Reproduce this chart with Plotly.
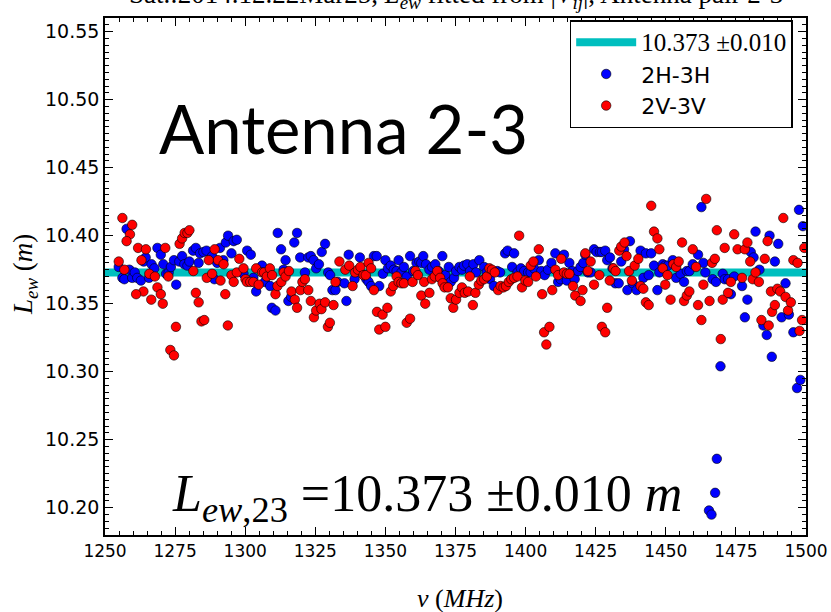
import plotly.graph_objects as go

# ---------------- data ----------------
fit_value = 10.373
fit_error = 0.010

h_freq = [1254.9, 1257.7, 1256.2, 1256.9, 1258.7, 1259.7, 1260.6, 1261.5, 1262.8, 1263.8, 1264.5, 1265.7,
          1266.6, 1267.6, 1268.7, 1269.9, 1270.8, 1271.8, 1272.7, 1273.5, 1274.6, 1275.4, 1276.5, 1277.5,
          1278.3, 1279.4, 1280.1, 1281.4, 1282.4, 1283.4, 1283.9, 1285.1, 1286.2, 1288.2, 1289.0, 1290.0,
          1291.0, 1292.2, 1293.1, 1293.9, 1295.1, 1295.9, 1297.0, 1299.4, 1300.7, 1302.0, 1302.9, 1303.9,
          1306.0, 1307.0, 1308.9, 1309.5, 1310.8, 1311.6, 1312.8, 1314.4, 1313.7, 1315.4, 1316.4, 1317.5,
          1318.5, 1319.6, 1321.3, 1322.5, 1323.4, 1324.4, 1325.3, 1326.3, 1327.3, 1328.5, 1329.6, 1330.3,
          1331.1, 1332.2, 1333.0,
          1335.4, 1336.1, 1336.9, 1339.0, 1340.9, 1342.3, 1343.2, 1344.0, 1344.9, 1345.9, 1346.9, 1347.8,
          1349.1, 1350.0, 1350.9, 1351.9, 1353.0, 1354.0, 1354.7, 1355.7, 1356.6, 1357.6, 1358.8, 1359.9,
          1361.1, 1362.1, 1362.8, 1363.5, 1364.5, 1365.7, 1366.6, 1367.8, 1369.0, 1370.3, 1371.4, 1372.6,
          1373.3, 1374.5, 1375.2, 1376.4, 1377.3, 1378.0, 1379.2, 1380.2, 1381.4, 1382.3, 1383.5, 1385.2,
          1386.1, 1387.3, 1388.7, 1389.9, 1390.9, 1392.7, 1393.6, 1395.2, 1395.9, 1397.1, 1398.3, 1399.5,
          1400.9, 1401.8, 1403.0, 1404.7, 1405.6, 1406.8, 1408.0, 1409.2, 1410.6, 1411.6, 1412.5, 1413.7,
          1414.7, 1415.6, 1416.6, 1417.5,
          1418.7, 1419.6, 1420.6, 1421.3, 1422.2, 1423.2, 1424.4, 1425.3, 1426.5, 1427.2, 1428.4, 1429.1,
          1430.1, 1431.0, 1432.0, 1433.2, 1434.1, 1435.1, 1436.3, 1437.2, 1438.2, 1439.6, 1441.0, 1442.0,
          1442.9, 1443.9, 1444.8, 1445.8, 1447.0, 1447.7, 1448.9, 1449.8, 1450.8, 1452.5, 1453.7, 1455.3,
          1456.5, 1457.5, 1458.4, 1459.6, 1461.5, 1462.7, 1463.4, 1464.1, 1466.7, 1467.9, 1470.3, 1471.0,
          1472.2, 1473.2, 1474.4, 1477.2, 1478.2, 1479.1, 1480.3, 1481.3, 1482.0, 1483.4, 1484.8, 1486.0,
          1487.0, 1488.9, 1490.1, 1491.3, 1492.7, 1493.9, 1495.5, 1497.5, 1498.9,
          1469.5, 1487.8, 1496.8, 1498.0, 1468.2, 1467.6, 1465.4, 1466.3]
h_len = [10.377, 10.405, 10.369, 10.368, 10.375, 10.369, 10.373, 10.369, 10.367, 10.381, 10.384, 10.369,
         10.379, 10.376, 10.391, 10.386, 10.379, 10.372, 10.373, 10.377, 10.382, 10.364, 10.381, 10.385,
         10.379, 10.378, 10.381, 10.389, 10.391, 10.380, 10.387, 10.388, 10.389, 10.385, 10.368, 10.380,
         10.391, 10.382, 10.395, 10.400, 10.387, 10.396, 10.397, 10.372, 10.389, 10.386, 10.369, 10.359,
         10.378, 10.366, 10.363, 10.347, 10.345, 10.402, 10.390, 10.382, 10.375, 10.352, 10.355, 10.395,
         10.402, 10.384, 10.373, 10.384, 10.385, 10.382, 10.376, 10.379, 10.388, 10.394, 10.373, 10.371,
         10.360, 10.360, 10.366,
         10.365, 10.352, 10.386, 10.368, 10.384, 10.371, 10.368, 10.366, 10.363, 10.385, 10.385, 10.363,
         10.372, 10.382, 10.376, 10.378, 10.375, 10.374, 10.382, 10.373, 10.377, 10.370, 10.385, 10.374,
         10.380, 10.381, 10.380, 10.385, 10.379, 10.375, 10.377, 10.379, 10.374, 10.385, 10.371, 10.377,
         10.366, 10.369, 10.374, 10.377, 10.375, 10.378, 10.379, 10.374, 10.379, 10.373, 10.382, 10.377,
         10.373, 10.368, 10.363, 10.374, 10.373, 10.387, 10.389, 10.377, 10.387, 10.373, 10.376, 10.374,
         10.373, 10.373, 10.376, 10.382, 10.374, 10.371, 10.375, 10.380, 10.387, 10.366, 10.368, 10.386,
         10.367, 10.380, 10.374, 10.368,
         10.374, 10.377, 10.380, 10.386, 10.373, 10.373, 10.390, 10.388, 10.388, 10.388, 10.389, 10.382,
         10.384, 10.376, 10.365, 10.365, 10.381, 10.390, 10.360, 10.396, 10.365, 10.360, 10.389, 10.369,
         10.387, 10.371, 10.387, 10.378, 10.360, 10.373, 10.379, 10.378, 10.378, 10.382, 10.369, 10.372,
         10.366, 10.374, 10.374, 10.379, 10.386, 10.421, 10.380, 10.373, 10.368, 10.366, 10.372, 10.368,
         10.368, 10.357, 10.370, 10.363, 10.340, 10.353, 10.388, 10.384, 10.403, 10.375, 10.334, 10.327,
         10.400, 10.381, 10.394, 10.340, 10.365, 10.342, 10.329, 10.419, 10.407,
         10.304, 10.311, 10.288, 10.294, 10.236, 10.211, 10.198, 10.195]

v_freq = [1256.2, 1259.7, 1258.9, 1257.7, 1261.8, 1263.0, 1264.6, 1263.7, 1261.1, 1266.5, 1268.7, 1269.9,
          1270.6, 1265.8, 1267.8, 1272.6, 1271.5, 1254.9, 1256.9, 1276.6, 1277.5, 1278.4, 1279.4, 1280.1,
          1281.5, 1282.4, 1283.4, 1284.4, 1285.4, 1275.3, 1273.3, 1274.6, 1286.3, 1287.0, 1288.2, 1289.1,
          1290.3, 1291.2, 1292.3, 1292.9, 1293.8, 1295.1, 1295.9, 1297.0, 1297.9, 1299.4, 1300.1, 1300.6,
          1301.8, 1302.9, 1303.9, 1304.8, 1306.0, 1306.7, 1307.7, 1308.8, 1309.6, 1310.8, 1311.5, 1312.9,
          1313.7, 1314.4, 1315.6, 1316.5, 1317.7, 1318.5, 1319.7, 1320.4, 1321.3, 1322.5, 1323.4, 1324.5,
          1325.3, 1326.5, 1327.2, 1328.5, 1329.5, 1330.2, 1331.5, 1332.2, 1333.6,
          1335.7, 1337.1, 1338.3, 1339.2, 1340.2, 1341.1, 1342.2, 1343.0, 1344.0, 1344.9, 1345.9, 1347.0,
          1349.0, 1350.7, 1347.8, 1350.0, 1351.9, 1352.8, 1354.0, 1354.7, 1355.7, 1356.6, 1357.6, 1358.8,
          1359.7, 1360.7, 1361.6, 1362.8, 1363.8, 1364.2, 1365.7, 1366.6, 1367.6, 1368.5, 1369.5, 1370.4,
          1371.1, 1372.3, 1373.3, 1374.2, 1375.2, 1376.4, 1377.3, 1378.3, 1379.5, 1380.1, 1381.2, 1382.1,
          1383.3, 1384.2, 1385.2, 1386.2, 1387.1, 1388.0, 1389.0, 1390.2, 1391.1, 1392.1, 1393.0, 1394.0,
          1394.9, 1395.9, 1397.1, 1397.7, 1398.7, 1399.9, 1400.9, 1401.8, 1402.8, 1403.7, 1404.7, 1405.9,
          1406.6, 1407.4, 1408.5, 1409.5, 1410.6, 1411.6, 1412.7, 1413.7, 1414.7, 1415.6, 1416.9, 1417.7,
          1419.6, 1420.3, 1421.3, 1422.2, 1423.2, 1424.4, 1426.3, 1427.2, 1428.4, 1429.1, 1430.0, 1431.3,
          1432.1, 1433.4, 1434.1, 1435.3, 1436.0, 1436.9, 1437.9, 1438.9, 1440.2, 1441.0, 1442.0, 1442.9,
          1443.9, 1444.8, 1445.8, 1447.0, 1447.7, 1448.9, 1449.8, 1450.6, 1451.7, 1452.7, 1453.7, 1454.6,
          1455.8, 1456.5, 1457.5, 1458.4, 1459.6, 1460.8, 1461.5, 1462.7, 1463.4, 1464.4, 1465.6, 1466.5,
          1467.5, 1468.2, 1469.6, 1470.3, 1471.0, 1472.2, 1473.2, 1474.4, 1475.6, 1477.2, 1478.2, 1479.1,
          1480.1, 1481.0, 1482.0, 1483.2, 1484.1, 1485.3, 1486.3, 1486.7, 1487.5, 1487.9, 1488.9, 1489.8,
          1490.8, 1491.9, 1492.7, 1493.6, 1494.6, 1495.5, 1497.0, 1497.7, 1498.6, 1499.4]
v_len = [10.413, 10.408, 10.401, 10.396, 10.391, 10.382, 10.390, 10.359, 10.357, 10.353, 10.362, 10.357,
         10.350, 10.372, 10.370, 10.370, 10.391, 10.381, 10.375, 10.394, 10.398, 10.402, 10.402, 10.404,
         10.374, 10.358, 10.351, 10.337, 10.338, 10.333, 10.316, 10.312, 10.369, 10.382, 10.372, 10.390,
         10.382, 10.367, 10.379, 10.357, 10.334, 10.371, 10.366, 10.373, 10.383, 10.376, 10.368, 10.366,
         10.366, 10.366, 10.376, 10.364, 10.373, 10.373, 10.370, 10.376, 10.371, 10.357, 10.363, 10.366,
         10.373, 10.370, 10.374, 10.359, 10.353, 10.347, 10.360, 10.366, 10.368, 10.360, 10.352, 10.340,
         10.345, 10.350, 10.346, 10.351, 10.333, 10.336, 10.349, 10.366, 10.381,
         10.375, 10.378, 10.363, 10.373, 10.375, 10.377, 10.371, 10.371, 10.380, 10.376, 10.360, 10.344,
         10.342, 10.347, 10.331, 10.333, 10.359, 10.363, 10.370, 10.366, 10.365, 10.365, 10.336, 10.339,
         10.366, 10.374, 10.371, 10.356, 10.366, 10.350, 10.358, 10.368, 10.370, 10.374, 10.369, 10.365,
         10.362, 10.362, 10.354, 10.347, 10.353, 10.358, 10.362, 10.358, 10.359, 10.370, 10.349, 10.358,
         10.364, 10.367, 10.368, 10.370, 10.376, 10.375, 10.373, 10.360, 10.363, 10.362, 10.363, 10.366,
         10.368, 10.369, 10.370, 10.400, 10.362, 10.367, 10.366, 10.378, 10.381, 10.370, 10.390, 10.357,
         10.329, 10.320, 10.333, 10.360, 10.375, 10.371, 10.383, 10.373, 10.372, 10.372, 10.363, 10.356,
         10.352, 10.360, 10.387, 10.374, 10.381, 10.364, 10.371, 10.333, 10.329, 10.347, 10.367, 10.376,
         10.374, 10.389, 10.392, 10.395, 10.385, 10.374, 10.367, 10.378, 10.383, 10.363, 10.361, 10.351,
         10.349, 10.422, 10.403, 10.398, 10.390, 10.376, 10.364, 10.371, 10.353, 10.379, 10.377, 10.381,
         10.395, 10.352, 10.356, 10.359, 10.390, 10.377, 10.349, 10.338, 10.364, 10.427, 10.352, 10.380,
         10.383, 10.404, 10.324, 10.353, 10.391, 10.358, 10.366, 10.401, 10.390, 10.369, 10.390, 10.395,
         10.381, 10.368, 10.373, 10.366, 10.338, 10.383, 10.396, 10.334, 10.359, 10.344, 10.349, 10.361,
         10.359, 10.413, 10.355, 10.345, 10.351, 10.382, 10.380, 10.330, 10.338, 10.391]

x_range = [1250, 1500]
y_range = [10.18, 10.56]
x_ticks = [1250, 1275, 1300, 1325, 1350, 1375, 1400, 1425, 1450, 1475, 1500]
y_ticks = [10.20, 10.25, 10.30, 10.35, 10.40, 10.45, 10.50, 10.55]

legend_fit = "10.373 \u00b10.010"
legend_h = "2H-3H"
legend_v = "2V-3V"

# ---------------- figure ----------------
SERIF = "Liberation Serif, DejaVu Serif, serif"
SANS = "DejaVu Sans, sans-serif"

fig = go.Figure()
fig.add_trace(go.Scatter(
    x=x_range, y=[fit_value, fit_value], mode="lines", legendgroup="a",
    line=dict(color="#00BFBF", width=8),
    name='<span style="font-family:Liberation Serif;font-size:25px">' + legend_fit + '</span>'))
fig.add_trace(go.Scatter(
    x=h_freq, y=h_len, mode="markers", name=legend_h, legendgroup="b",
    marker=dict(color="#0000FF", size=9.5, line=dict(color="rgba(0,0,0,0.75)", width=0.8))))
fig.add_trace(go.Scatter(
    x=v_freq, y=v_len, mode="markers", name=legend_v, legendgroup="c",
    marker=dict(color="#FF0000", size=9.5, line=dict(color="rgba(0,0,0,0.75)", width=0.8))))

axis_common = dict(
    showgrid=False, zeroline=False, showline=True, linecolor="black", linewidth=1.5,
    mirror="ticks", ticks="inside", ticklen=8, tickwidth=1.2, tickcolor="black",
    automargin=False,
)

fig.update_xaxes(
    range=x_range, tickvals=x_ticks, ticktext=[str(t) for t in x_ticks],
    tickfont=dict(family=SANS, size=17, color="black"),
    minor=dict(ticks="inside", dtick=5, ticklen=4, tickwidth=1, tickcolor="black", showgrid=False),
    **axis_common)
fig.update_yaxes(
    range=y_range, tickvals=y_ticks, ticktext=["%.2f" % t for t in y_ticks],
    tickfont=dict(family=SANS, size=19, color="black"),
    minor=dict(ticks="inside", dtick=0.005, ticklen=4, tickwidth=1, tickcolor="black", showgrid=False),
    **axis_common)

fig.update_layout(
    width=831, height=612,
    margin=dict(l=105, r=25, t=18, b=77),
    paper_bgcolor="white", plot_bgcolor="white",
    showlegend=True,
    legend=dict(
        x=0.981, y=0.996, xanchor="right", yanchor="top",
        bgcolor="white", bordercolor="black", borderwidth=1.5,
        font=dict(family=SANS, size=22, color="black"),
        itemwidth=60, traceorder="grouped", tracegroupgap=0,
    ),
    annotations=[
        dict(text="Sat.:2014.12.22Mar25, <i>L<sub>ew</sub></i> fitted from |<i>V<sub>ij</sub></i>|, Antenna pair 2-3",
             xref="paper", yref="paper", x=0.5, y=1.006, xanchor="center", yanchor="bottom",
             showarrow=False, font=dict(family=SERIF, size=27, color="black")),
        dict(text="<i>\u03bd</i> (<i>MHz</i>)", xref="paper", yref="paper", x=0.506, y=-0.122,
             xanchor="center", yanchor="middle", showarrow=False,
             font=dict(family=SERIF, size=26, color="black")),
        dict(text="<i>L<sub>ew</sub></i> (<i>m</i>)", xref="paper", yref="paper", x=-0.114, y=0.503,
             xanchor="center", yanchor="middle", textangle=-90, showarrow=False,
             font=dict(family=SERIF, size=27, color="black")),
        dict(text="Antenna 2-3", xref="paper", yref="paper", x=0.340, y=0.787,
             xanchor="center", yanchor="middle", showarrow=False,
             font=dict(family="Lato, Open Sans, sans-serif", size=67, color="black")),
        dict(text="<i>L</i><sub><i>ew</i>,23</sub> =10.373 \u00b10.010 <i>m</i>",
             xref="paper", yref="paper", x=0.459, y=0.072, xanchor="center", yanchor="middle",
             showarrow=False, font=dict(family=SERIF, size=52, color="black")),
    ],
)

fig.write_html("out.html")
